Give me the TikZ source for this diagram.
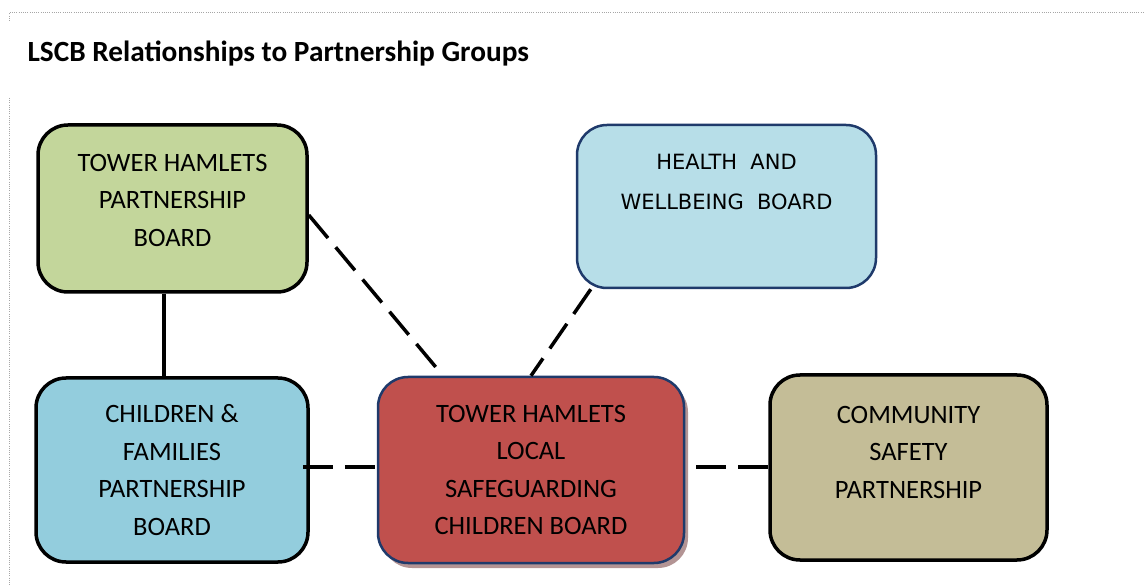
\documentclass[tikz,border=0pt]{standalone}
\usepackage{fontspec}
\setmainfont{Carlito}
\newfontfamily\hwbfont{DejaVu Sans}
\usepackage{tikz}
\usetikzlibrary{shadows}

\definecolor{thpgreen}{HTML}{C3D69B}
\definecolor{hwbblue}{HTML}{B7DEE8}
\definecolor{cfpblue}{HTML}{93CDDD}
\definecolor{lscbred}{HTML}{C0504D}
\definecolor{csptan}{HTML}{C4BD97}
\definecolor{navyline}{HTML}{1F3A6B}
\definecolor{rosyshade}{HTML}{B39494}

\newcommand{\boxfont}{\fontsize{26.5}{37.5}\selectfont}

\begin{document}
\begin{tikzpicture}
  [x=1pt, y=-1pt,
   board/.style={draw=black, line width=3.5pt, rounded corners=30pt, align=center,
     font=\boxfont, inner sep=0pt},
   help line/.style={line width=3.5pt, dash pattern=on 30pt off 12pt},
   frame line/.style={gray!70, line width=1pt, dash pattern=on 1pt off 1.2pt}]
  \useasboundingbox (0,0) rectangle (1144,585);
  % dotted frame round the figure
  \draw[frame line] (9,21) -- (9,13) -- (1144,13);
  \draw[frame line] (9,98) -- (9,585);
  \node[anchor=base west, font=\fontsize{29.3}{32}\selectfont\bfseries] (title) at (24,62)
    {LSCB Relationships to Partnership Groups};

  \node[board, fill=thpgreen, minimum width=269pt, minimum height=167pt, text depth=17pt]
    (tpb) at (172.5,208.5) {TOWER HAMLETS\\PARTNERSHIP\\BOARD};
  \node[board, fill=hwbblue, draw=navyline, line width=2.5pt, minimum width=299pt,
    minimum height=163pt, text depth=50pt, text=black,
    font=\hwbfont\fontsize{21}{40}\selectfont]
    (hwb) at (726.5,206.5) {HEALTH\ \ AND\\WELLBEING\ \ BOARD};
  \node[board, fill=cfpblue, minimum width=272pt, minimum height=184pt]
    (cfpb) at (172,470) {CHILDREN \&\\FAMILIES\\PARTNERSHIP\\BOARD};
  \node[board, fill=lscbred, draw=navyline, line width=2.5pt, minimum width=306pt,
    minimum height=186pt, drop shadow={shadow xshift=4pt, shadow yshift=-5pt,
    fill=rosyshade, opacity=1}]
    (lscb) at (531,470) {TOWER HAMLETS\\LOCAL\\SAFEGUARDING\\CHILDREN BOARD};
  \node[board, fill=csptan, minimum width=277pt, minimum height=185pt, text depth=31pt]
    (csp) at (908.5,467.5) {COMMUNITY\\SAFETY\\PARTNERSHIP};

  \draw[line width=3.5pt] ([xshift=-8.5pt]tpb.south) -- ([xshift=-8.5pt]tpb.south |- cfpb.north);
  \draw[help line] ([yshift=-6.5pt]tpb.east) -- ([xshift=-88pt]lscb.north);
  \draw[help line] ([xshift=15pt]hwb.south west) -- (lscb.north);
  \draw[help line] ([xshift=-7pt,yshift=3pt]cfpb.east) -- ([yshift=3pt]lscb.west);
  \draw[help line] ([xshift=11pt,yshift=3pt]lscb.east) -- ([xshift=11pt,yshift=3pt]lscb.east -| csp.west);
\end{tikzpicture}
\end{document}
